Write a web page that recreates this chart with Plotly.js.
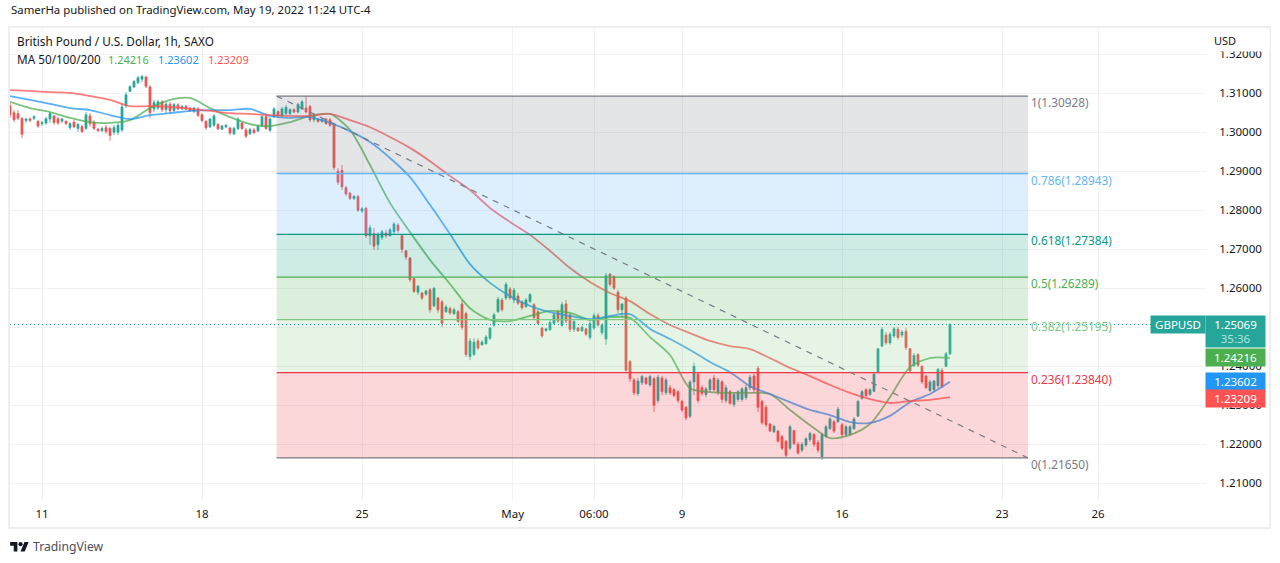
<!DOCTYPE html>
<html><head><meta charset="utf-8">
<script src="https://cdn.plot.ly/plotly-3.0.1.min.js"></script>
<style>html,body{margin:0;padding:0;background:#fff;overflow:hidden}#c{width:1280px;height:563px}
#logo{position:absolute;left:10px;top:540px;width:19px;height:12px}</style></head>
<body><div id="c"></div>
<svg id="logo" viewBox="0 0 36 23"><path fill="#131722" d="M14 22H7V11H0V4h14v18zM28 22h-8l7.5-18h8L28 22z"/><circle fill="#131722" cx="20" cy="8" r="4"/></svg>
<script>
// ---------- candles (one bar per three trading hours)
const open = [
1.3068,1.3050,1.3048,1.3036,1.3030,1.3034,1.3036,1.3028,1.3022,1.3024,
1.3034,1.3042,1.3035,1.3028,1.3028,1.3012,1.3026,1.3010,1.3015,1.3010,
1.3042,1.3026,1.3008,1.3004,1.3012,1.3010,1.3000,1.3000,1.3006,1.3068,
1.3105,1.3116,1.3127,1.3136,1.3142,1.3116,1.3060,1.3062,1.3078,1.3058,
1.3072,1.3056,1.3070,1.3060,1.3066,1.3062,1.3053,1.3060,1.3045,1.3028,
1.3014,1.3018,1.3020,1.3008,1.3014,1.3011,1.2996,1.3009,1.3024,1.3006,
1.2996,1.3006,1.3003,1.3016,1.3040,1.3005,1.3040,1.3053,1.3042,1.3048,
1.3048,1.3058,1.3052,1.3060,1.3062,1.3066,1.3032,1.3034,1.3028,1.3034,
1.3032,1.3020,1.2900,1.2902,1.2858,1.2844,1.2830,1.2835,1.2798,1.2805,
1.2735,1.2740,1.2712,1.2730,1.2742,1.2735,1.2745,1.2762,1.2735,1.2696,
1.2678,1.2625,1.2590,1.2588,1.2585,1.2596,1.2555,1.2575,1.2565,1.2540,
1.2548,1.2535,1.2540,1.2560,1.2535,1.2425,1.2430,1.2465,1.2455,1.2458,
1.2472,1.2505,1.2540,1.2570,1.2575,1.2598,1.2570,1.2580,1.2565,1.2553,
1.2566,1.2558,1.2540,1.2498,1.2492,1.2494,1.2510,1.2540,1.2505,1.2560,
1.2532,1.2495,1.2498,1.2491,1.2496,1.2474,1.2498,1.2530,1.2486,1.2470,
1.2636,1.2630,1.2590,1.2545,1.2575,1.2412,1.2365,1.2330,1.2358,1.2370,
1.2352,1.2368,1.2312,1.2370,1.2332,1.2345,1.2340,1.2335,1.2310,1.2295,
1.2272,1.2360,1.2380,1.2345,1.2328,1.2340,1.2370,1.2332,1.2360,1.2312,
1.2335,1.2302,1.2315,1.2315,1.2320,1.2345,1.2375,1.2395,1.2310,1.2295,
1.2252,1.2232,1.2234,1.2220,1.2208,1.2190,1.2235,1.2200,1.2185,1.2198,
1.2212,1.2225,1.2205,1.2168,1.2220,1.2240,1.2258,1.2258,1.2250,1.2225,
1.2225,1.2240,1.2272,1.2318,1.2340,1.2328,1.2336,1.2385,1.2452,1.2480,
1.2460,1.2478,1.2495,1.2480,1.2490,1.2445,1.2402,1.2430,1.2400,1.2375,
1.2338,1.2340,1.2350,1.2390,1.2400,1.2432];
const high = [
1.3075,1.3057,1.3057,1.3039,1.3037,1.3039,1.3044,1.3031,1.3029,1.3039,
1.3052,1.3044,1.3039,1.3037,1.3031,1.3026,1.3031,1.3024,1.3019,1.3052,
1.3049,1.3031,1.3011,1.3014,1.3019,1.3014,1.3019,1.3024,1.3075,1.3103,
1.3121,1.3134,1.3144,1.3147,1.3144,1.3121,1.3083,1.3083,1.3083,1.3078,
1.3078,1.3075,1.3075,1.3070,1.3070,1.3065,1.3065,1.3065,1.3049,1.3031,
1.3037,1.3047,1.3024,1.3019,1.3021,1.3014,1.3014,1.3039,1.3026,1.3011,
1.3011,1.3011,1.3019,1.3044,1.3049,1.3039,1.3065,1.3057,1.3065,1.3070,
1.3062,1.3062,1.3075,1.3083,1.3093,1.3070,1.3049,1.3037,1.3037,1.3037,
1.3037,1.3024,1.2908,1.2916,1.2862,1.2847,1.2839,1.2839,1.2809,1.2809,
1.2762,1.2755,1.2744,1.2750,1.2750,1.2755,1.2770,1.2767,1.2737,1.2698,
1.2680,1.2627,1.2609,1.2591,1.2596,1.2601,1.2604,1.2578,1.2570,1.2558,
1.2553,1.2550,1.2545,1.2570,1.2540,1.2472,1.2472,1.2472,1.2467,1.2480,
1.2501,1.2537,1.2578,1.2575,1.2616,1.2604,1.2601,1.2588,1.2570,1.2575,
1.2588,1.2562,1.2545,1.2501,1.2498,1.2519,1.2537,1.2545,1.2565,1.2570,
1.2537,1.2519,1.2501,1.2504,1.2498,1.2519,1.2537,1.2537,1.2511,1.2639,
1.2639,1.2634,1.2596,1.2562,1.2580,1.2416,1.2370,1.2370,1.2378,1.2373,
1.2378,1.2373,1.2378,1.2376,1.2370,1.2352,1.2344,1.2339,1.2314,1.2298,
1.2365,1.2409,1.2386,1.2352,1.2347,1.2370,1.2378,1.2370,1.2365,1.2352,
1.2339,1.2334,1.2339,1.2347,1.2352,1.2378,1.2383,1.2401,1.2314,1.2301,
1.2255,1.2250,1.2237,1.2224,1.2211,1.2250,1.2237,1.2206,1.2206,1.2219,
1.2232,1.2229,1.2211,1.2229,1.2250,1.2270,1.2262,1.2296,1.2255,1.2250,
1.2250,1.2270,1.2314,1.2339,1.2344,1.2344,1.2383,1.2447,1.2501,1.2488,
1.2488,1.2501,1.2501,1.2493,1.2498,1.2447,1.2434,1.2434,1.2403,1.2378,
1.2365,1.2365,1.2396,1.2396,1.2437,1.2511];
const low = [
1.3037,1.3026,1.3031,1.2985,1.3024,1.3026,1.3031,1.3011,1.3016,1.3019,
1.3024,1.3019,1.3019,1.3024,1.3019,1.3006,1.3011,1.3001,1.2998,1.3006,
1.3014,1.3006,1.3001,1.3001,1.2996,1.2978,1.2993,1.2993,1.3001,1.3062,
1.3103,1.3113,1.3124,1.3129,1.3113,1.3037,1.3052,1.3057,1.3052,1.3049,
1.3049,1.3052,1.3057,1.3057,1.3057,1.3052,1.3049,1.3039,1.3026,1.3006,
1.3011,1.3014,1.3006,1.3006,1.3011,1.2993,1.2993,1.3006,1.3006,1.2985,
1.2993,1.2996,1.3001,1.3014,1.3006,1.3001,1.3037,1.3037,1.3039,1.3044,
1.3044,1.3049,1.3049,1.3057,1.3049,1.3026,1.3026,1.3024,1.3024,1.3019,
1.3014,1.2903,1.2865,1.2852,1.2837,1.2826,1.2826,1.2796,1.2793,1.2729,
1.2711,1.2698,1.2698,1.2724,1.2729,1.2732,1.2739,1.2742,1.2691,1.2673,
1.2616,1.2588,1.2583,1.2570,1.2581,1.2537,1.2552,1.2537,1.2501,1.2537,
1.2532,1.2532,1.2511,1.2493,1.2424,1.2416,1.2427,1.2442,1.2452,1.2455,
1.2467,1.2501,1.2537,1.2540,1.2570,1.2570,1.2562,1.2557,1.2545,1.2550,
1.2562,1.2519,1.2506,1.2473,1.2488,1.2491,1.2506,1.2511,1.2501,1.2511,
1.2488,1.2488,1.2488,1.2488,1.2478,1.2468,1.2493,1.2501,1.2480,1.2455,
1.2604,1.2596,1.2537,1.2524,1.2383,1.2360,1.2326,1.2324,1.2352,1.2352,
1.2347,1.2283,1.2306,1.2326,1.2326,1.2326,1.2321,1.2306,1.2283,1.2262,
1.2267,1.2326,1.2306,1.2324,1.2321,1.2334,1.2334,1.2326,1.2306,1.2306,
1.2301,1.2296,1.2309,1.2309,1.2314,1.2339,1.2332,1.2283,1.2250,1.2245,
1.2232,1.2229,1.2204,1.2185,1.2167,1.2185,1.2198,1.2173,1.2180,1.2193,
1.2206,1.2193,1.2178,1.2160,1.2216,1.2237,1.2229,1.2255,1.2219,1.2219,
1.2221,1.2237,1.2270,1.2314,1.2321,1.2324,1.2334,1.2383,1.2449,1.2455,
1.2455,1.2473,1.2468,1.2473,1.2442,1.2383,1.2398,1.2398,1.2355,1.2342,
1.2334,1.2334,1.2344,1.2344,1.2398,1.2429];
const close = [
1.3045,1.3032,1.3036,1.2995,1.3034,1.3031,1.3040,1.3016,1.3025,1.3035,
1.3048,1.3025,1.3024,1.3034,1.3022,1.3022,1.3014,1.3020,1.3002,1.3045,
1.3022,1.3010,1.3004,1.3010,1.3002,1.2992,1.3012,1.3018,1.3065,1.3096,
1.3117,1.3130,1.3140,1.3143,1.3118,1.3050,1.3076,1.3078,1.3058,1.3072,
1.3055,1.3071,1.3060,1.3066,1.3060,1.3055,1.3062,1.3044,1.3030,1.3012,
1.3034,1.3042,1.3009,1.3016,1.3018,1.2998,1.3010,1.3034,1.3010,1.2990,
1.3007,1.2999,1.3016,1.3040,1.3010,1.3034,1.3060,1.3042,1.3060,1.3064,
1.3058,1.3052,1.3072,1.3078,1.3052,1.3032,1.3045,1.3028,1.3034,1.3022,
1.3018,1.2910,1.2872,1.2860,1.2842,1.2830,1.2836,1.2800,1.2804,1.2735,
1.2755,1.2708,1.2738,1.2745,1.2735,1.2750,1.2765,1.2748,1.2700,1.2680,
1.2622,1.2592,1.2605,1.2575,1.2593,1.2545,1.2600,1.2545,1.2510,1.2552,
1.2537,1.2545,1.2515,1.2500,1.2430,1.2465,1.2462,1.2447,1.2462,1.2475,
1.2498,1.2532,1.2572,1.2545,1.2610,1.2575,1.2595,1.2562,1.2550,1.2570,
1.2584,1.2525,1.2510,1.2478,1.2496,1.2512,1.2532,1.2516,1.2558,1.2516,
1.2495,1.2515,1.2491,1.2500,1.2482,1.2510,1.2530,1.2506,1.2506,1.2632,
1.2610,1.2600,1.2545,1.2560,1.2390,1.2368,1.2332,1.2362,1.2374,1.2356,
1.2374,1.2300,1.2372,1.2335,1.2365,1.2332,1.2325,1.2312,1.2288,1.2268,
1.2360,1.2400,1.2312,1.2330,1.2342,1.2365,1.2340,1.2365,1.2315,1.2345,
1.2305,1.2328,1.2335,1.2342,1.2345,1.2372,1.2340,1.2295,1.2255,1.2250,
1.2234,1.2246,1.2208,1.2190,1.2172,1.2245,1.2202,1.2178,1.2200,1.2214,
1.2228,1.2200,1.2185,1.2225,1.2245,1.2265,1.2234,1.2290,1.2225,1.2245,
1.2245,1.2265,1.2310,1.2335,1.2325,1.2340,1.2380,1.2445,1.2495,1.2460,
1.2482,1.2496,1.2474,1.2488,1.2448,1.2388,1.2428,1.2403,1.2360,1.2345,
1.2360,1.2362,1.2392,1.2348,1.2432,1.2507];
const barStep = 3;

// ---------- moving averages, read every 15 trading hours
const maStep = 15;
const ma50 = [1.3078,1.3062,1.3052,1.3037,1.3026,1.3024,1.3031,1.3062,1.3083,1.3088,1.3062,1.3039,1.3021,1.3016,1.3026,1.3042,1.3047,1.3006,1.2916,1.2819,1.2744,1.2673,1.2611,1.2549,1.2519,1.2516,1.2529,1.2542,1.2537,1.2519,1.2526,1.2524,1.2475,1.2429,1.2344,1.2334,1.2332,1.2332,1.2329,1.2288,1.2249,1.2216,1.2224,1.2252,1.2321,1.2398,1.2421,1.24216];
const ma100 = [1.3093,1.3083,1.3073,1.3062,1.3057,1.3044,1.3034,1.3044,1.3049,1.3055,1.3057,1.3057,1.3060,1.3042,1.3037,1.3039,1.3024,1.3003,1.2975,1.2934,1.2885,1.2814,1.2739,1.2662,1.2614,1.2580,1.2555,1.2539,1.2529,1.2521,1.2529,1.2534,1.2496,1.2470,1.2442,1.2411,1.2385,1.2349,1.2329,1.2308,1.2288,1.2275,1.2257,1.2255,1.2273,1.2308,1.2329,1.23602];
const ma200 = [1.3108,1.3106,1.3103,1.3101,1.3093,1.3083,1.3067,1.3067,1.3065,1.3060,1.3055,1.3049,1.3047,1.3044,1.3042,1.3042,1.3047,1.3031,1.3013,1.2988,1.2960,1.2926,1.2888,1.2852,1.2806,1.2770,1.2737,1.2696,1.2652,1.2616,1.2588,1.2567,1.2534,1.2506,1.2485,1.2465,1.2452,1.2444,1.2421,1.2396,1.2375,1.2352,1.2332,1.2316,1.2306,1.2311,1.2314,1.23209];

// ---------- fibonacci retracement
const fibLevels = ["1","0.786","0.618","0.5","0.382","0.236","0"];
const fibPrices = [1.30928,1.28943,1.27384,1.26289,1.25195,1.23840,1.21650];
const fibLine  = ["#787b86","#64b5f6","#089981","#4caf50","#81c784","#f23645","#787b86"];
const fibFill  = ["rgba(120,123,134,.2)","rgba(100,181,246,.22)","rgba(8,153,129,.2)","rgba(76,175,80,.2)","rgba(129,199,132,.2)","rgba(242,54,69,.2)"];
const fibStart = 200, fibEnd = 763.5;
const lastPrice = 1.25069;

// ---------- axes
const priceTicks = [1.21,1.22,1.23,1.24,1.25,1.26,1.27,1.28,1.29,1.30,1.31,1.32];
const priceLabels = ["1.21000","1.22000","1.23000","1.24000","","1.26000","1.27000","1.28000","1.29000","1.30000","1.31000","1.32000"];
const timeTicks = [24,144,264,377,438,504,624,744,816];
const timeLabels = ["11","18","25","May","06:00","9","16","23","26"];
const xRange = [0,897], yRange = [1.20572,1.32674];

const FONT = '"Noto Sans", sans-serif', INK = '#131722';
const W = 1280, H = 563, L = 10, R = 1206, T = 28, B = 500;
const px = p => (p-L)/(R-L), py = p => (B-p)/(B-T);
const barX = open.map((_,i)=>i*barStep);
const maX = ma50.map((_,i)=>i*maStep);

const maTrace = (y,color)=>({type:'scatter',mode:'lines',x:maX,y:y,hoverinfo:'skip',opacity:.75,
  line:{color:color,width:1.8,shape:'spline',smoothing:.8}});
const data = [
  {type:'candlestick',x:barX,open:open,high:high,low:low,close:close,hoverinfo:'skip',whiskerwidth:0,
   increasing:{line:{color:'#26a69a',width:.8},fillcolor:'#26a69a'},
   decreasing:{line:{color:'#ef5350',width:.8},fillcolor:'#ef5350'}},
  maTrace(ma50,'#4caf50'),maTrace(ma100,'#2196f3'),maTrace(ma200,'#ff5252')
];

const shapes = [];
// outer frame
shapes.push({type:'rect',xref:'paper',yref:'paper',x0:px(9),x1:px(1270),y0:py(27),y1:py(528),layer:'below',
  line:{color:'#eceef3',width:2},fillcolor:'rgba(0,0,0,0)'});
fibFill.forEach((f,i)=>shapes.push({type:'rect',layer:'above',x0:fibStart,x1:fibEnd,y0:fibPrices[i],y1:fibPrices[i+1],fillcolor:f,line:{width:0}}));
fibPrices.forEach((p,i)=>shapes.push({type:'line',layer:'above',x0:fibStart,x1:fibEnd,y0:p,y1:p,line:{color:fibLine[i],width:1.3}}));
shapes.push({type:'line',layer:'above',x0:fibStart,x1:fibEnd,y0:fibPrices[0],y1:fibPrices[6],line:{color:'#787b86',width:1.2,dash:'6px,6px'}});
shapes.push({type:'line',layer:'above',xref:'paper',x0:0,x1:1,y0:lastPrice,y1:lastPrice,line:{color:'#26a69a',width:1,dash:'1px,3px'}});

const ann = [];
const text = (t,x,y,size,color,extra)=>ann.push(Object.assign({xref:'paper',yref:'paper',x:px(x),y:py(y),xanchor:'left',yanchor:'middle',
  text:t,showarrow:false,borderpad:0,font:{family:FONT,size:size,color:color},align:'left'},extra||{}));
text('SamerHa published on TradingView.com, May 19, 2022 11:24 UTC-4',9.5,9,11.4,INK);
text('British Pound / U.S. Dollar, 1h, SAXO',16,41,11.75,INK);
text('MA 50/100/200',16,59,11.75,INK);
text('1.24216',107,59,11,'#4caf50');
text('1.23602',157,59,11,'#2196f3');
text('1.23209',207,59,11,'#ff5252');
text('TradingView',32,546,12.2,'#4a4e5a');
// covers the top of the highest tick label, as the currency tag does
text(' ',1208,40,12,INK,{bgcolor:'#fff',width:60,height:22});
text('USD',1213,40,11,INK);
fibLevels.forEach((l,i)=>ann.push({x:765.25,y:fibPrices[i],xanchor:'left',yanchor:'middle',yshift:-6,showarrow:false,borderpad:0,
  text:l+'('+fibPrices[i].toFixed(5)+')',font:{family:FONT,size:11.8,color:fibLine[i]}}));
const badge = (t,x0,x1,y0,y1,bg)=>ann.push({xref:'paper',yref:'paper',x:px((x0+x1)/2),y:py((y0+y1)/2),xanchor:'center',yanchor:'middle',
  width:x1-x0,height:y1-y0,bgcolor:bg,text:t,showarrow:false,borderpad:0,align:'center',font:{family:FONT,size:11.5,color:'#fff'}});
badge('GBPUSD',1151,1205,316,333,'#26a69a');
badge(lastPrice.toFixed(5)+'<br><span style="color:#b5e2dc">35:36</span>',1206,1265,316,347,'#26a69a');
badge(ma50[ma50.length-1].toFixed(5),1206,1265,349,366,'#4caf50');
badge(ma100[ma100.length-1].toFixed(5),1206,1265,373,390,'#2196f3');
badge(ma200[ma200.length-1].toFixed(5),1206,1265,390,407,'#ff5252');

const layout = {
  width:W,height:H,margin:{l:L,r:W-R,t:T,b:H-B,pad:0},
  paper_bgcolor:'#fff',plot_bgcolor:'#fff',showlegend:false,dragmode:false,hovermode:false,
  xaxis:{type:'linear',range:xRange,rangeslider:{visible:false},tickmode:'array',tickvals:timeTicks,ticktext:timeLabels,
    showgrid:true,gridcolor:'#f0f2f6',gridwidth:1,zeroline:false,showline:false,ticks:'outside',ticklen:3,tickcolor:'rgba(0,0,0,0)',
    tickfont:{family:FONT,size:11.5,color:INK},automargin:false},
  yaxis:{side:'right',range:yRange,tickmode:'array',tickvals:priceTicks,ticktext:priceLabels,
    showgrid:true,gridcolor:'#f0f2f6',gridwidth:1,zeroline:false,showline:false,ticks:'outside',ticklen:10,tickcolor:'rgba(0,0,0,0)',
    tickfont:{family:FONT,size:11.5,color:INK},automargin:false},
  shapes:shapes,annotations:ann
};
Plotly.newPlot('c',data,layout,{displayModeBar:false,staticPlot:true});
</script></body></html>
